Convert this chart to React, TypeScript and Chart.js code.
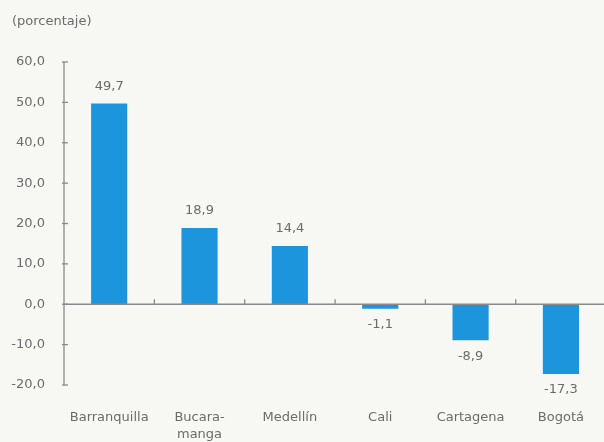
import React, { useEffect, useRef } from 'react';
import { Chart, registerables } from 'chart.js';

Chart.register(...registerables);

const categories: (string | string[])[] = ['Barranquilla', ['Bucara-', 'manga'], 'Medellín', 'Cali', 'Cartagena', 'Bogotá'];
const values: number[] = [49.7, 18.9, 14.4, -1.1, -8.9, -17.3];
const yMin = -20;
const yMax = 60;
const yStep = 10;
const unitLabel = '(porcentaje)';

const BG = '#f7f7f3';
const TEXT = '#6b6b6b';
const AXIS = '#8a8a8a';
const BAR = '#1c95dc';
const FONT = 'DejaVu Sans';

const fmt = (v: number) => v.toFixed(1).replace('.', ',');

const decor = {
  id: 'decor',
  beforeDraw(chart: any) {
    const { ctx, width, height } = chart;
    ctx.save();
    ctx.fillStyle = BG;
    ctx.fillRect(0, 0, width, height);
    ctx.restore();
  },
  afterDatasetsDraw(chart: any) {
    const { ctx, chartArea, scales, width } = chart;
    const x = scales.x;
    const y = scales.y;
    const left = chartArea.left;
    const zeroY = y.getPixelForValue(0);
    ctx.save();
    ctx.strokeStyle = AXIS;
    ctx.lineWidth = 1.3;
    // y axis line
    ctx.beginPath();
    ctx.moveTo(left, y.getPixelForValue(yMax));
    ctx.lineTo(left, y.getPixelForValue(yMin));
    ctx.stroke();
    // y ticks
    y.ticks.forEach((t: any) => {
      const py = y.getPixelForValue(t.value);
      ctx.beginPath();
      ctx.moveTo(left - 2, py);
      ctx.lineTo(left + 4, py);
      ctx.stroke();
    });
    // zero line
    ctx.beginPath();
    ctx.moveTo(left, zeroY);
    ctx.lineTo(width, zeroY);
    ctx.stroke();
    // category boundary ticks
    for (let i = 1; i < categories.length; i++) {
      const px = (x.getPixelForValue(i - 1) + x.getPixelForValue(i)) / 2;
      ctx.beginPath();
      ctx.moveTo(px, zeroY);
      ctx.lineTo(px, zeroY - 5);
      ctx.stroke();
    }
    // data labels
    ctx.fillStyle = TEXT;
    ctx.font = `13px "${FONT}"`;
    ctx.textAlign = 'center';
    ctx.textBaseline = 'middle';
    const meta = chart.getDatasetMeta(0);
    meta.data.forEach((bar: any, i: number) => {
      const v = values[i];
      const ty = v >= 0 ? bar.y - 17 : bar.y + 16;
      ctx.fillText(fmt(v), bar.x, ty);
    });
    // unit label
    ctx.textAlign = 'left';
    ctx.fillText(unitLabel, 12, 22);
    ctx.restore();
  },
};

export default function App() {
  const ref = useRef<HTMLCanvasElement | null>(null);

  useEffect(() => {
    document.body.style.margin = '0';
    document.body.style.background = BG;
    if (!ref.current) return;
    const chart = new Chart(ref.current, {
      type: 'bar',
      data: {
        labels: categories,
        datasets: [
          {
            data: values,
            backgroundColor: BAR,
            borderWidth: 0,
            barPercentage: 0.4,
            categoryPercentage: 1.0,
          },
        ],
      },
      options: {
        responsive: false,
        animation: false,
        layout: { padding: { top: 62, left: 8, right: 0, bottom: 0 } },
        plugins: {
          legend: { display: false },
          tooltip: { enabled: false },
          title: { display: false },
        },
        scales: {
          x: {
            grid: { display: false, drawTicks: false },
            border: { display: false },
            ticks: {
              color: TEXT,
              font: { family: FONT, size: 13, lineHeight: 1.31 },
              padding: 24,
              maxRotation: 0,
              autoSkip: false,
            },
            afterFit: (s: any) => {
              s.height = 57;
            },
          },
          y: {
            min: yMin,
            max: yMax,
            grid: { display: false, drawTicks: false },
            border: { display: false },
            ticks: {
              stepSize: yStep,
              color: TEXT,
              font: { family: FONT, size: 13 },
              padding: 19,
              callback: (v: any) => fmt(Number(v)),
            },
            afterFit: (s: any) => {
              s.width = 56;
            },
          },
        },
      },
      plugins: [decor],
    });
    return () => chart.destroy();
  }, []);

  return (
    <div style={{ width: 604, height: 442, overflow: 'hidden', background: BG }}>
      <canvas ref={ref} width={608} height={442} style={{ display: 'block', width: 608, height: 442 }} />
    </div>
  );
}
